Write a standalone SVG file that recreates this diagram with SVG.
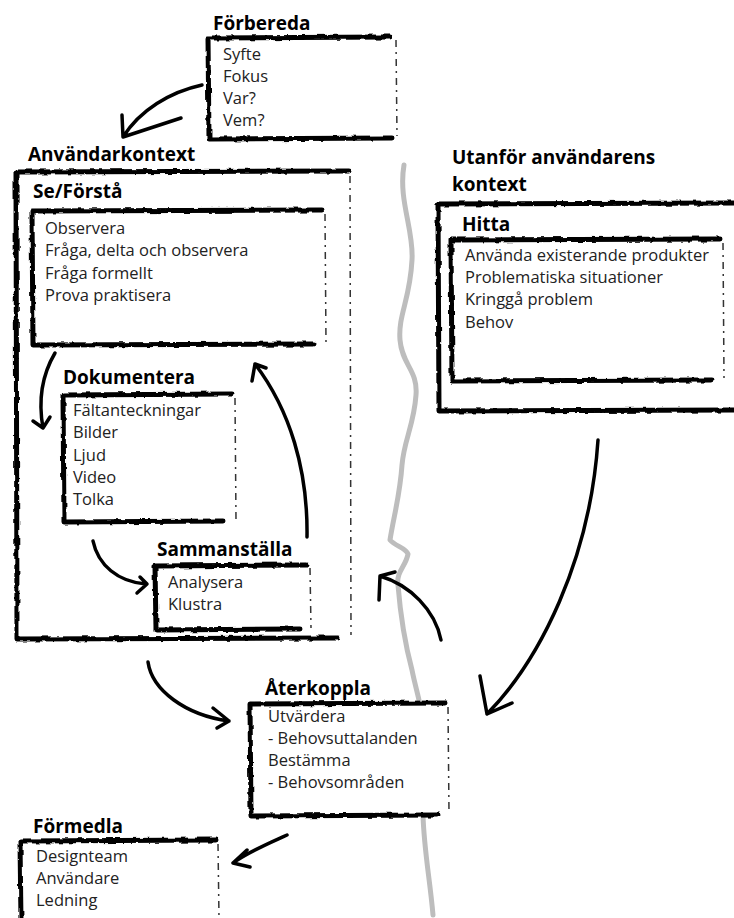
<svg xmlns="http://www.w3.org/2000/svg" width="734" height="918" viewBox="0 0 734 918">
<defs>
<filter id="rough" x="-5%" y="-5%" width="110%" height="110%">
<feTurbulence type="fractalNoise" baseFrequency="0.12" numOctaves="2" seed="4" result="n"/>
<feDisplacementMap in="SourceGraphic" in2="n" scale="4" xChannelSelector="R" yChannelSelector="G"/>
</filter>
<style>
.frame{fill:none;stroke:#000;stroke-width:5;stroke-linejoin:round;stroke-linecap:round;filter:url(#rough)}
.dash{fill:none;stroke:#333;stroke-width:1.5;stroke-dasharray:7 5 2 5}
.bg{fill:#fff;stroke:none}
.title{font-family:"Open Sans","Noto Sans","Liberation Sans",sans-serif;font-weight:bold;font-size:19px;fill:#000}
.item{font-family:"Open Sans","Noto Sans","Liberation Sans",sans-serif;font-size:16.5px;fill:#222}
.arrow{fill:none;stroke:#000;stroke-width:3.5;stroke-linecap:round;stroke-linejoin:round}
.divider{fill:none;stroke:#bdbdbd;stroke-width:5;stroke-linecap:round;stroke-linejoin:round}
</style>
</defs>
<rect width="734" height="918" fill="#fff"/>

<path class="divider" d="M404,165 C398,200 414,230 412,260 C410,300 398,315 400,340 C402,365 418,370 416,395 C414,425 404,440 402,465 C400,495 394,515 390,540 C395,546 406,548 408,554 C406,566 396,572 398,585 C400,610 404,640 412,670 C416,690 420,700 421,712 L423,815 C424,850 430,880 433,915"/>

<g id="forbereda">
<rect class="bg" x="208" y="37" width="190" height="102"/>
<path class="frame" d="M390,37 L208,38 L209,139 L392,138"/>
<path class="dash" d="M396,40 L397,136"/>
<text class="title" x="213" y="30">Förbereda</text>
<text class="item" x="223" y="60">Syfte</text>
<text class="item" x="223" y="82">Fokus</text>
<text class="item" x="223" y="104">Var?</text>
<text class="item" x="223" y="126">Vem?</text>
</g>

<g id="anvandarkontext">
<rect class="bg" x="16" y="171" width="336" height="468"/>
<path class="frame" d="M349,171 L16,172 L17,639 L338,638"/>
<path class="dash" d="M350,176 L351,635"/>
<text class="title" x="28" y="161">Användarkontext</text>
</g>

<g id="seforsta">
<rect class="bg" x="32" y="210" width="294" height="135"/>
<path class="frame" d="M322,210 L32,211 L33,345 L314,344"/>
<path class="dash" d="M325,214 L326,343"/>
<text class="title" x="33" y="198">Se/Förstå</text>
<text class="item" x="45" y="234">Observera</text>
<text class="item" x="45" y="256">Fråga, delta och observera</text>
<text class="item" x="45" y="279">Fråga formellt</text>
<text class="item" x="45" y="301">Prova praktisera</text>
</g>

<g id="dokumentera">
<rect class="bg" x="63" y="394" width="172" height="128"/>
<path class="frame" d="M232,394 L63,395 L64,522 L223,521"/>
<path class="dash" d="M235,398 L236,520"/>
<text class="title" x="63" y="384">Dokumentera</text>
<text class="item" x="73" y="416">Fältanteckningar</text>
<text class="item" x="73" y="438">Bilder</text>
<text class="item" x="73" y="461">Ljud</text>
<text class="item" x="73" y="483">Video</text>
<text class="item" x="73" y="505">Tolka</text>
</g>

<g id="sammanstalla">
<rect class="bg" x="155" y="565" width="155" height="65"/>
<path class="frame" d="M307,565 L155,566 L156,630 L300,629"/>
<path class="dash" d="M310,568 L311,628"/>
<text class="title" x="157" y="556">Sammanställa</text>
<text class="item" x="168" y="588">Analysera</text>
<text class="item" x="168" y="610">Klustra</text>
</g>

<g id="utanfor">
<rect class="bg" x="438" y="203" width="296" height="209"/>
<path class="frame" d="M736,203 L438,204 L439,411 L736,410"/>
<text class="title" x="452" y="164">Utanför användarens</text>
<text class="title" x="452" y="191">kontext</text>
</g>

<g id="hitta">
<rect class="bg" x="451" y="239" width="273" height="142"/>
<path class="frame" d="M720,239 L451,240 L452,381 L712,380"/>
<path class="dash" d="M723,243 L724,378"/>
<text class="title" x="462" y="231">Hitta</text>
<text class="item" x="465" y="261">Använda existerande produkter</text>
<text class="item" x="465" y="283">Problematiska situationer</text>
<text class="item" x="465" y="305">Kringgå problem</text>
<text class="item" x="465" y="328">Behov</text>
</g>

<g id="aterkoppla">
<rect class="bg" x="250" y="703" width="198" height="114"/>
<path class="frame" d="M446,703 L250,704 L251,816 L438,815"/>
<path class="dash" d="M448,707 L449,813"/>
<text class="title" x="265" y="695">Återkoppla</text>
<text class="item" x="268" y="722">Utvärdera</text>
<text class="item" x="268" y="744">- Behovsuttalanden</text>
<text class="item" x="268" y="766">Bestämma</text>
<text class="item" x="268" y="788">- Behovsområden</text>
</g>

<g id="formedla">
<rect class="bg" x="20" y="840" width="198" height="80"/>
<path class="frame" d="M216,840 L20,841 L21,922"/>
<path class="dash" d="M218,844 L219,918"/>
<text class="title" x="33" y="833">Förmedla</text>
<text class="item" x="36" y="862">Designteam</text>
<text class="item" x="36" y="884">Användare</text>
<text class="item" x="36" y="906">Ledning</text>
</g>

<g id="connectors">
<path class="arrow" d="M202,85 C170,92 140,110 123,137 M122,115 L123,137 L181,118"/>
<path class="arrow" d="M55,353 C42,375 38,400 43,428 M33,421 L43,428 L50,417"/>
<path class="arrow" d="M93,541 C98,565 118,582 146,584 M140,577 L147,584 L137,593"/>
<path class="arrow" d="M307,537 C308,470 290,410 255,364 M252,381 L255,364 L266,368"/>
<path class="arrow" d="M598,440 C590,560 540,660 487,714 M480,676 L487,714 L512,703"/>
<path class="arrow" d="M441,640 C435,610 410,585 380,576 M379,600 L380,576 L395,572"/>
<path class="arrow" d="M148,662 C152,690 185,715 229,721 M213,708 L229,721 L217,728"/>
<path class="arrow" d="M287,835 C265,845 248,852 233,863 M247,850 L233,863 L250,867"/>
</g>
</svg>
